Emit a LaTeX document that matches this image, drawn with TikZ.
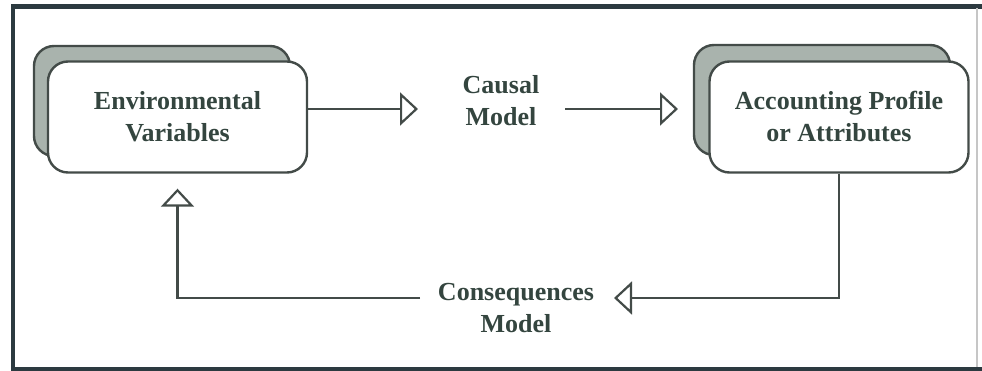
\documentclass[tikz,border=0pt]{standalone}
\usepackage{fontspec}
\setmainfont{Liberation Serif}
\usetikzlibrary{arrows.meta,positioning}
\definecolor{inkline}{HTML}{434B48}
\definecolor{inktext}{HTML}{34453F}
\definecolor{shade}{HTML}{A9B3AD}
\definecolor{frameink}{HTML}{2C3A40}
\tikzset{
  card/.style={draw=inkline, line width=2.4pt, rounded corners=20pt,
    fill=white, minimum width=259pt, minimum height=111pt,
    font=\fontsize{26}{32}\selectfont\bfseries, text=inktext, align=center},
  cardback/.style={draw=inkline, line width=2.4pt, rounded corners=20pt,
    fill=shade, minimum width=256pt, minimum height=110pt},
  label/.style={font=\fontsize{26}{32}\selectfont\bfseries, text=inktext,
    align=center, inner sep=0pt},
  link/.style={draw=inkline, line width=2.2pt,
    -{Triangle[open, length=18pt, width=33pt, line width=2.2pt]}},
}
\begin{document}
\begin{tikzpicture}[x=1pt, y=-1pt]
\useasboundingbox (0,0) rectangle (982,371);
% outer frame
\draw[frameink, line width=5pt] (11,7) -- (982,7);
\draw[frameink, line width=4.5pt] (13,5) -- (13,369);
\draw[frameink, line width=4pt] (11,369) -- (982,369);
\draw[gray!45, line width=1.2pt] (977,8) -- (977,367);

% stacked cards
\node[cardback] (envB) at (162,101) {};
\node[card] (env) at (177.5,117) {Environmental\\Variables};
\node[cardback] (accB) at (822,100) {};
\node[card] (acc) at (839,117) {Accounting Profile\\or Attributes};

% model labels
\node[label] (causal) at (501,101) {Causal\\Model};
\node[label] (conseq) at (516,308) {Consequences\\Model};

% connector end points
\coordinate (c1) at (418,109);
\coordinate (c2) at (565,109);
\coordinate (c3) at (678,109);
\coordinate (c4) at (614,298);
\coordinate (c5) at (420,298);

% forward path
\draw[link] (env.east |- c1) -- (c1);
\draw[link] (c2) -- (c3);
% feedback path
\draw[link] (acc.south) |- (c4);
\draw[link, shorten >=15pt] (c5) -| (env.south);
\end{tikzpicture}
\end{document}
